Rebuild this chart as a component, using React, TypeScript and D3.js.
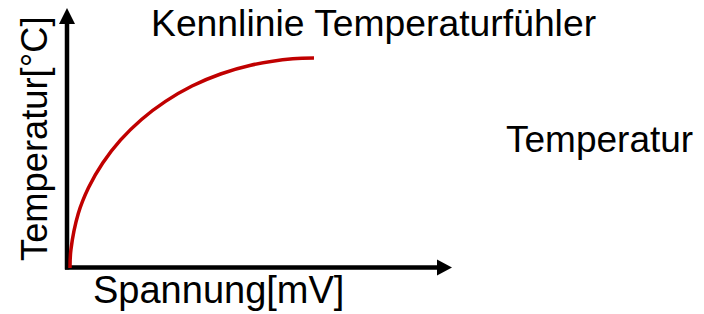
import { useEffect, useRef } from "react";
import * as d3 from "d3";

const WIDTH = 704;
const HEIGHT = 314;

// characteristic curve (abstract units 0..100)
const voltage = [0.52, 0.76, 2.68, 5.36, 9.04, 13.65, 19.14, 25.39, 32.29, 39.74, 47.6, 58.52, 64.06];
const temperature = [0, 7.04, 20.92, 30.92, 40.38, 49.15, 57.12, 64.08, 70.0, 74.62, 78.0, 80.46, 80.77];

const TITLE = "Kennlinie Temperaturfühler";
const X_LABEL = "Spannung[mV]";
const Y_LABEL = "Temperatur[°C]";
const LEGEND_LABEL = "Temperatur";

const CURVE_COLOR = "#C00000";
const FONT = "'Liberation Sans', Arial, sans-serif";

export default function App() {
  const svgRef = useRef<SVGSVGElement | null>(null);

  useEffect(() => {
    const svg = d3.select(svgRef.current);
    svg.selectAll("*").remove();

    const x0 = 67, x1 = 452;
    const y0 = 267.5, y1 = 8;

    const xScale = d3.scaleLinear().domain([0, 100]).range([68, 452]);
    const yScale = d3.scaleLinear().domain([0, 100]).range([268, 8]);

    // axes with arrow heads
    svg.append("line")
      .attr("x1", x0).attr("y1", y0 + 2)
      .attr("x2", x0).attr("y2", 22)
      .attr("stroke", "#000").attr("stroke-width", 4.5);
    svg.append("path")
      .attr("d", `M${x0},${y1} L${x0 - 8},24 L${x0 + 8},24 Z`)
      .attr("fill", "#000");

    svg.append("line")
      .attr("x1", x0 - 2).attr("y1", y0)
      .attr("x2", 439).attr("y2", y0)
      .attr("stroke", "#000").attr("stroke-width", 4.5);
    svg.append("path")
      .attr("d", `M${x1},${y0} L437,${y0 - 8} L437,${y0 + 8} Z`)
      .attr("fill", "#000");

    // curve
    const pts = voltage.map((v, i) => [v, temperature[i]] as [number, number]);
    const line = d3.line<[number, number]>()
      .x(d => xScale(d[0]))
      .y(d => yScale(d[1]))
      .curve(d3.curveCatmullRom.alpha(0.5));
    svg.append("path")
      .datum(pts)
      .attr("d", line)
      .attr("fill", "none")
      .attr("stroke", CURVE_COLOR)
      .attr("stroke-width", 3.5);

    const text = (x: number, y: number, s: string, size: number) =>
      svg.append("text")
        .attr("x", x).attr("y", y)
        .attr("fill", "#000")
        .style("font-family", FONT)
        .style("font-size", `${size}px`)
        .text(s);

    text(151, 36, TITLE, 37.3);
    text(506, 152, LEGEND_LABEL, 37);
    text(93, 303, X_LABEL, 38);
    text(0, 0, Y_LABEL, 36.3).attr("transform", "translate(47,261) rotate(-90)");
  }, []);

  return (
    <svg
      ref={svgRef}
      width={WIDTH}
      height={HEIGHT}
      style={{ position: "absolute", left: 0, top: 0, background: "#fff" }}
    />
  );
}
